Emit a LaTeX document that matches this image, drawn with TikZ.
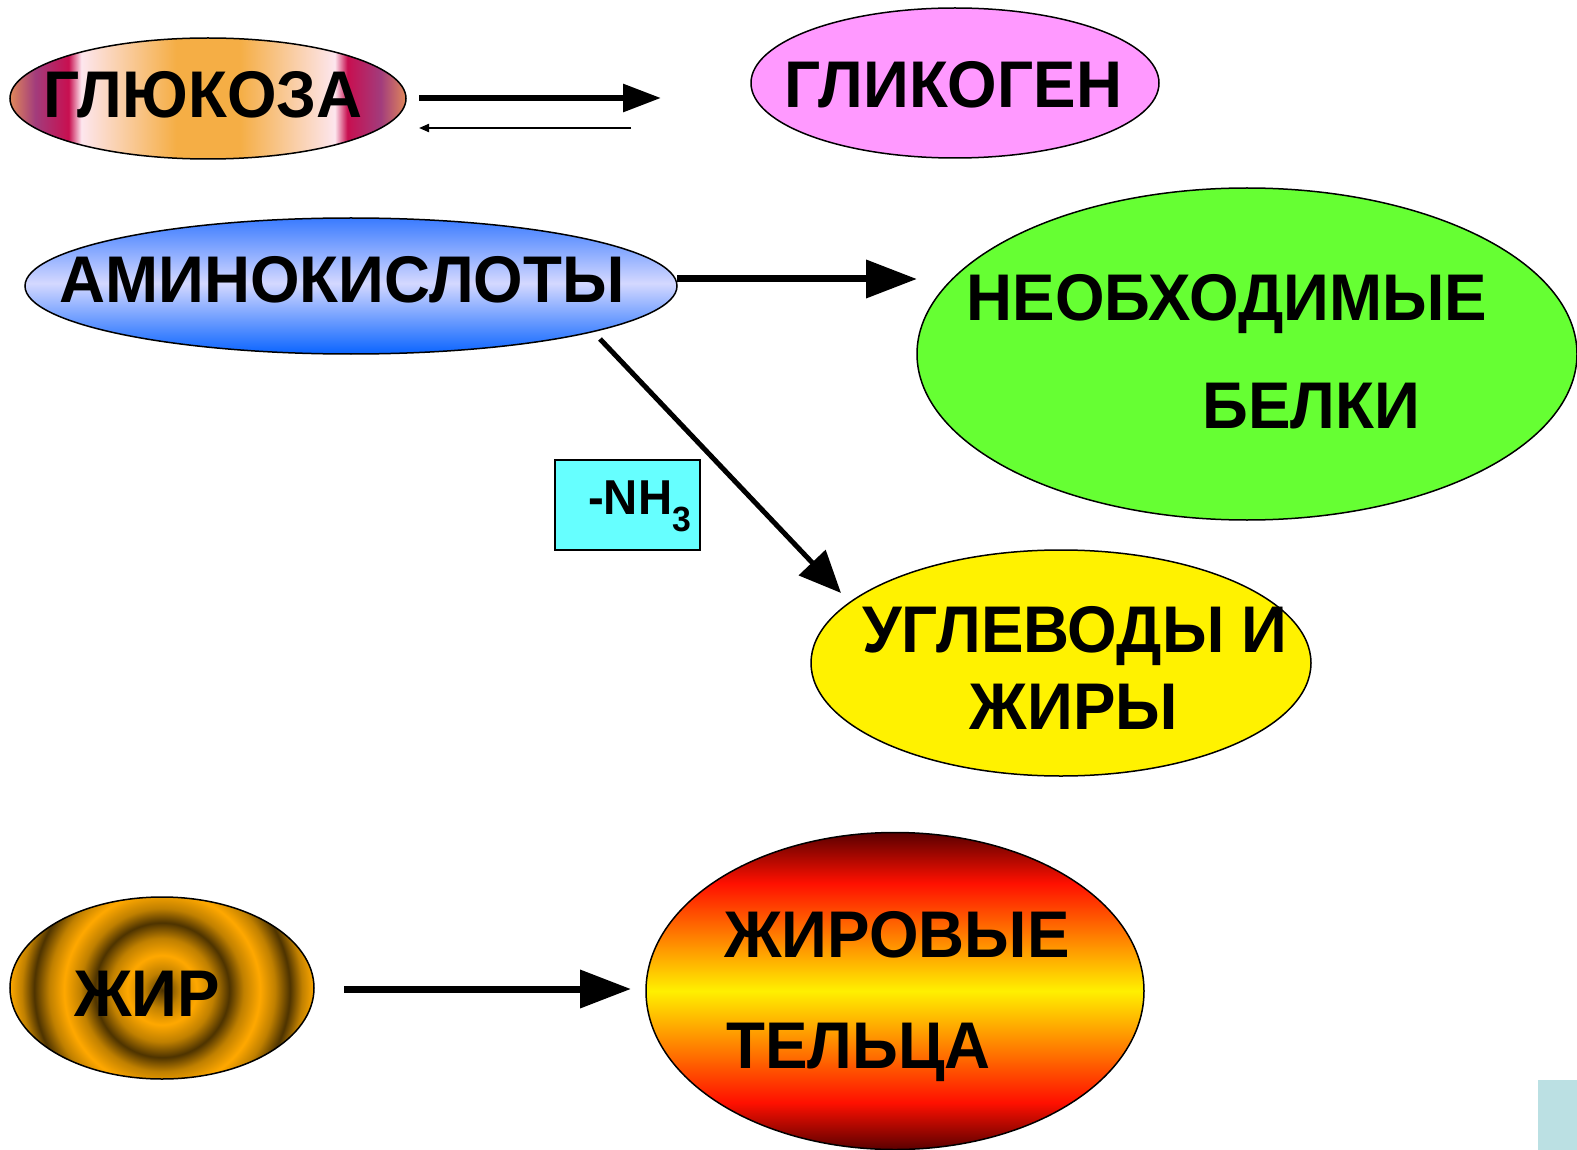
\documentclass[tikz,border=0pt]{standalone}
\usepackage{fontspec}
\setmainfont{Liberation Sans}[FakeStretch=0.965]
\usetikzlibrary{shapes.geometric,arrows.meta}
\definecolor{gEdge}{HTML}{E0885A}
\definecolor{gPurp}{HTML}{A23C7C}
\definecolor{gCrim}{HTML}{C80F50}
\definecolor{gPink}{HTML}{FDE6EE}
\definecolor{gOr}{HTML}{F5AE45}
\definecolor{aBot}{HTML}{0A64FF}
\definecolor{aLight}{HTML}{D4D8FF}
\definecolor{aTop}{HTML}{3A7BFF}
\definecolor{fDark}{HTML}{5A0000}
\definecolor{fRed}{HTML}{FF1000}
\definecolor{fYel}{HTML}{FFF000}
\definecolor{rOr}{HTML}{FFA800}
\definecolor{rMid}{HTML}{C08000}
\definecolor{rDk}{HTML}{4D3300}
\definecolor{glyc}{HTML}{FF99FF}
\definecolor{protein}{HTML}{66FF33}
\definecolor{nhbox}{HTML}{66FFFF}
\definecolor{sqcol}{HTML}{BBE0E3}
\pgfdeclarehorizontalshading{glushade}{100bp}{color(0bp)=(gEdge); color(25bp)=(gEdge); color(28.2bp)=(gPurp); color(32.4bp)=(gCrim); color(34bp)=(gPink); color(46bp)=(gOr); color(54bp)=(gOr); color(66bp)=(gPink); color(67.6bp)=(gCrim); color(71.8bp)=(gPurp); color(75bp)=(gEdge); color(100bp)=(gEdge)}
\pgfdeclareverticalshading{aminoshade}{100bp}{color(0bp)=(aBot); color(25bp)=(aBot); color(51bp)=(aLight); color(75bp)=(aTop); color(100bp)=(aTop)}
\pgfdeclareverticalshading{fatshade}{100bp}{color(0bp)=(fDark); color(25bp)=(fDark); color(32.4bp)=(fRed); color(50bp)=(fYel); color(67bp)=(fRed); color(75bp)=(fDark); color(100bp)=(fDark)}
\pgfdeclareradialshading{ringshade}{\pgfpoint{0bp}{0bp}}{color(0bp)=(rDk); color(2.6bp)=(rMid); color(5.1bp)=(rOr); color(7.6bp)=(rMid); color(9.9bp)=(rDk); color(12bp)=(rMid); color(14.4bp)=(rOr); color(16.6bp)=(rMid); color(18.8bp)=(rDk); color(20.6bp)=(rMid); color(22.4bp)=(rOr); color(24bp)=(rMid); color(25.7bp)=(rDk); color(50bp)=(rDk)}
\begin{document}
\begin{tikzpicture}[x=1pt,y=-1pt,
  oval/.style={ellipse,draw=black,line width=1.5pt,inner sep=0pt},
  lbl/.style={font=\fontsize{66}{70}\selectfont\bfseries,anchor=base,inner sep=0pt},
  bigarrow/.style={line width=7pt,-{Triangle[length=51pt,width=37pt]}},
  midarrow/.style={line width=6pt,-{Triangle[length=38pt,width=27pt]}},
  thinarrow/.style={line width=2pt,-{Triangle[length=10pt,width=8pt]}}]
\useasboundingbox (0,0) rectangle (1577,1150);
\fill[white] (0,0) rectangle (1577,1150);
% ovals
\node[oval,shading=glushade,minimum width=396pt,minimum height=121pt] (glu) at (208,98.5) {};
\node[oval,fill=glyc,minimum width=408pt,minimum height=150pt] (gly) at (955,83) {};
\node[oval,shading=aminoshade,minimum width=652pt,minimum height=136pt] (amino) at (351,286) {};
\node[oval,fill=protein,minimum width=660pt,minimum height=332pt] (prot) at (1247,354) {};
\node[oval,fill=yellow,minimum width=500pt,minimum height=226pt] (carb) at (1061,663) {};
\node[oval,minimum width=304pt,minimum height=182pt,
  path picture={\shade[shading=ringshade] ([yshift=-2pt]path picture bounding box.center) circle (170);}] (fat) at (162,988) {};
\node[oval,shading=fatshade,minimum width=498pt,minimum height=317pt] (bodies) at (895,991) {};
% labels
\node[lbl] (tglu) at (203,118) {ГЛЮКОЗА};
\node[lbl] (tgly) at (953,108) {ГЛИКОГЕН};
\node[lbl] (tamino) at (342,303) {АМИНОКИСЛОТЫ};
\node[lbl] (tprot1) at (1227,320) {НЕОБХОДИМЫЕ};
\node[lbl] (tprot2) at (1311,428) {БЕЛКИ};
\node[lbl] (tcarb1) at (1075,652) {УГЛЕВОДЫ И};
\node[lbl] (tcarb2) at (1074,729) {ЖИРЫ};
\node[lbl] (tfat) at (147,1016) {ЖИР};
\node[lbl,anchor=base west] (tbod1) at (724,957) {ЖИРОВЫЕ};
\node[lbl,anchor=base west] (tbod2) at (726,1068) {ТЕЛЬЦА};
% NH3 box
\node[draw=black,line width=1.2pt,fill=nhbox,minimum width=145pt,minimum height=90pt,inner sep=0pt] (nh) at (627.5,505) {};
\node[font=\fontsize{49}{49}\selectfont\bfseries,anchor=base west,inner sep=0pt] (tnh) at (588,514) {-NH\raisebox{-17pt}{\fontsize{35}{35}\selectfont 3}};
% connectors
\coordinate (g1) at (419,98);  \coordinate (g2) at (661,98);
\coordinate (b1) at (631,128); \coordinate (b2) at (419,128);
\coordinate (a1) at (677,279); \coordinate (a2) at (917,279);
\coordinate (d1) at (600,339); \coordinate (d2) at (841,593);
\coordinate (f1) at (344,989); \coordinate (f2) at (631,989);
\draw[midarrow] (g1) -- (g2);
\draw[thinarrow] (b1) -- (b2);
\draw[bigarrow] (a1) -- (a2);
\draw[line width=5pt,-{Triangle[length=42pt,width=36pt]}] (d1) -- (d2);
\draw[bigarrow] (f1) -- (f2);
% corner square
\fill[sqcol] (1538,1080) rectangle (1577,1150);
\end{tikzpicture}
\end{document}
